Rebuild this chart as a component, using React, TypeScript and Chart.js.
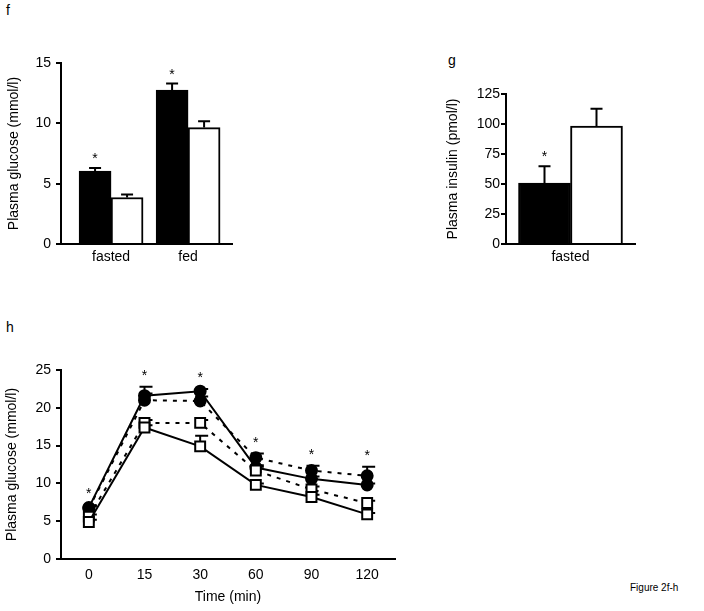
import React, { useEffect, useRef } from 'react';
import { Chart, registerables } from 'chart.js';

Chart.register(...registerables);

const FONT = "'Liberation Sans', Arial, Helvetica, sans-serif";
Chart.defaults.font.family = FONT;
Chart.defaults.font.size = 14;
Chart.defaults.color = '#000';

// ---------- Panel f ----------
const fCategories = ['fasted', 'fed'];
const fBlack = [6.05, 12.75];
const fBlackErr = [0.25, 0.55];
const fWhite = [3.85, 9.65];
const fWhiteErr = [0.25, 0.52];
const fSig = [true, true];

// ---------- Panel g ----------
const gCategories = ['fasted'];
const gBlack = [50.7];
const gBlackErr = [14];
const gWhite = [98.3];
const gWhiteErr = [14.5];
const gSig = [true];

// ---------- Panel h ----------
const hTimes = ['0', '15', '30', '60', '90', '120'];
const hWhiteSolid = [4.9, 17.4, 14.9, 9.8, 8.2, 5.9];
const hWhiteSolidErr = [0.3, 0.3, 1.4, 0.2, 0.3, 0.2];
const hWhiteDashed = [5.6, 18.0, 18.0, 11.7, 9.2, 7.4];
const hWhiteDashedErr = [0.3, 0.4, 0.4, 0.5, 0.4, 0.3];
const hBlackSolid = [6.8, 21.6, 22.2, 12.1, 10.6, 9.8];
const hBlackSolidErr = [0.3, 1.2, 0.3, 0.3, 0.3, 0.2];
const hBlackDashed = [6.7, 21.0, 20.9, 13.4, 11.7, 11.0];
const hBlackDashedErr = [0.3, 0.9, 0.6, 0.55, 0.65, 1.2];
const hSig = [true, true, true, true, true, true];

function valOf(d: any): number {
  return typeof d === 'number' ? d : d.y;
}

function makeErrPlugin(o: { behind: boolean; capL: number; capR: number; sig: boolean[]; sigSets: number[]; starGap: number }) {
  const drawErr = (chart: any) => {
    const ctx = chart.ctx;
    const ys = chart.scales.y;
    ctx.save();
    ctx.strokeStyle = '#000';
    ctx.lineWidth = 2;
    chart.data.datasets.forEach((ds: any, i: number) => {
      const errs = ds.errors;
      if (!errs) return;
      const meta = chart.getDatasetMeta(i);
      meta.data.forEach((el: any, j: number) => {
        const v = valOf(ds.data[j]);
        const px = el.x;
        const p0 = ys.getPixelForValue(v);
        const p1 = ys.getPixelForValue(v + errs[j]);
        ctx.beginPath();
        ctx.moveTo(px, p0);
        ctx.lineTo(px, p1);
        ctx.moveTo(px - o.capL, p1);
        ctx.lineTo(px + o.capR, p1);
        ctx.stroke();
      });
    });
    ctx.restore();
  };
  const drawStars = (chart: any) => {
    const ctx = chart.ctx;
    const ys = chart.scales.y;
    ctx.save();
    ctx.fillStyle = '#000';
    ctx.font = `14px ${FONT}`;
    ctx.textAlign = 'center';
    ctx.textBaseline = 'alphabetic';
    o.sig.forEach((s, j) => {
      if (!s) return;
      let top = Infinity;
      let x = 0;
      o.sigSets.forEach((i, k) => {
        const ds = chart.data.datasets[i];
        const el = chart.getDatasetMeta(i).data[j];
        if (!el) return;
        if (k === 0) x = el.x;
        const v = valOf(ds.data[j]) + (ds.errors ? ds.errors[j] : 0);
        top = Math.min(top, ys.getPixelForValue(v));
      });
      ctx.fillText('*', x, top - o.starGap + 8);
    });
    ctx.restore();
  };
  return {
    id: 'errStars',
    beforeDatasetsDraw(chart: any) {
      if (o.behind) drawErr(chart);
    },
    afterDatasetsDraw(chart: any) {
      if (!o.behind) drawErr(chart);
      drawStars(chart);
    },
  };
}

const axisBorder = { display: true, color: '#000', width: 2 };

function barConfig(p: {
  cats: string[]; black: number[]; blackErr: number[]; white: number[]; whiteErr: number[]; sig: boolean[];
  xmin: number; xmax: number; thickness: number; ymax: number; step: number; yTitle: string;
  padTop: number; padRight: number; yWidth: number; titlePad: number; tickPad: number; xHeight: number;
}) {
  return {
    type: 'bar',
    data: {
      datasets: [
        {
          label: 'black', data: p.black.map((v, i) => ({ x: i + 1, y: v })), errors: p.blackErr,
          backgroundColor: '#000', borderColor: '#000', borderWidth: 2, barThickness: p.thickness,
        },
        {
          label: 'white', data: p.white.map((v, i) => ({ x: i + 1, y: v })), errors: p.whiteErr,
          backgroundColor: '#fff', borderColor: '#000', borderWidth: 2, barThickness: p.thickness,
        },
      ],
    },
    options: {
      animation: false, responsive: false, devicePixelRatio: 1, events: [],
      layout: { padding: { top: p.padTop, right: p.padRight, left: 0, bottom: 0 } },
      plugins: { legend: { display: false }, tooltip: { enabled: false } },
      scales: {
        x: {
          type: 'linear', min: p.xmin, max: p.xmax, bounds: 'data', offset: false,
          grid: { display: true, drawOnChartArea: false, drawTicks: false, offset: false },
          border: axisBorder,
          afterBuildTicks: (s: any) => { s.ticks = p.cats.map((_, i) => ({ value: i + 1 })); },
          ticks: { callback: (v: any) => p.cats[Math.round(v) - 1] ?? '', color: '#000', font: { size: 14 }, padding: 5, maxRotation: 0, autoSkip: false },
          afterFit: (s: any) => { s.height = p.xHeight; },
        },
        y: {
          min: 0, max: p.ymax,
          ticks: { stepSize: p.step, color: '#000', font: { size: 14 }, padding: p.tickPad },
          grid: { drawOnChartArea: false, drawTicks: true, tickLength: 5, color: '#000', lineWidth: 2 },
          border: axisBorder,
          title: { display: true, text: p.yTitle, color: '#000', font: { size: 14 }, padding: { top: p.titlePad, bottom: 0 } },
          afterFit: (s: any) => { s.width = p.yWidth; },
        },
      },
    },
    plugins: [makeErrPlugin({ behind: false, capL: 6, capR: 6, sig: p.sig, sigSets: [0], starGap: 13 })],
  };
}

function hConfig() {
  const line = (data: number[], errs: number[], filled: boolean, dashed: boolean) => ({
    data, errors: errs,
    borderColor: '#000', borderWidth: 2, borderDash: dashed ? [4, 6] : [],
    pointStyle: filled ? 'circle' : 'rect',
    pointRadius: filled ? 5.5 : 7,
    pointBackgroundColor: filled ? '#000' : '#fff',
    pointBorderColor: '#000', pointBorderWidth: 2,
    tension: 0, fill: false,
  });
  return {
    type: 'line',
    data: {
      labels: hTimes,
      datasets: [
        line(hWhiteSolid, hWhiteSolidErr, false, false),
        line(hWhiteDashed, hWhiteDashedErr, false, true),
        line(hBlackSolid, hBlackSolidErr, true, false),
        line(hBlackDashed, hBlackDashedErr, true, true),
      ],
    },
    options: {
      animation: false, responsive: false, devicePixelRatio: 1, events: [],
      layout: { padding: { top: 70, right: 25, left: 0, bottom: 0 } },
      plugins: { legend: { display: false }, tooltip: { enabled: false } },
      scales: {
        x: {
          type: 'category', offset: true,
          grid: { display: true, drawOnChartArea: false, drawTicks: false, offset: true },
          border: axisBorder,
          ticks: { color: '#000', font: { size: 14 }, padding: 8, maxRotation: 0, autoSkip: false },
          title: { display: true, text: 'Time (min)', color: '#000', font: { size: 14 }, padding: { top: 0, bottom: 5 } },
          afterFit: (s: any) => { s.height = 52; },
        },
        y: {
          min: 0, max: 25,
          ticks: { stepSize: 5, color: '#000', font: { size: 14 }, padding: 5 },
          grid: { drawOnChartArea: false, drawTicks: true, tickLength: 5, color: '#000', lineWidth: 2 },
          border: axisBorder,
          title: { display: true, text: 'Plasma glucose (mmol/l)', color: '#000', font: { size: 14 }, padding: { top: 3.5, bottom: 0 } },
          afterFit: (s: any) => { s.width = 61; },
        },
      },
    },
    plugins: [makeErrPlugin({ behind: true, capL: 5, capR: 8, sig: hSig, sigSets: [0, 1, 2, 3], starGap: 15 })],
  };
}

function ChartCanvas({ left, top, width, height, make }: { left: number; top: number; width: number; height: number; make: () => any }) {
  const ref = useRef<HTMLCanvasElement | null>(null);
  useEffect(() => {
    if (!ref.current) return;
    const chart = new Chart(ref.current, make());
    return () => chart.destroy();
  }, []);
  return (
    <canvas
      ref={ref}
      width={width}
      height={height}
      style={{ position: 'absolute', left, top, width, height }}
    />
  );
}

const label = (text: string, left: number, top: number, size: number) => (
  <div style={{ position: 'absolute', left, top, fontFamily: FONT, fontSize: size, lineHeight: `${size + 2}px`, color: '#000', whiteSpace: 'nowrap' }}>
    {text}
  </div>
);

export default function App() {
  return (
    <div style={{ position: 'absolute', left: 0, top: 0, width: 704, height: 611, background: '#fff', overflow: 'hidden' }}>
      {label('f', 6, 2, 14)}
      {label('g', 448, 52, 14)}
      {label('h', 6, 319, 14)}
      {label('Figure 2f-h', 630, 582, 10)}
      <ChartCanvas
        left={0} top={40} width={250} height={230}
        make={() => barConfig({
          cats: fCategories, black: fBlack, blackErr: fBlackErr, white: fWhite, whiteErr: fWhiteErr, sig: fSig,
          xmin: 0.35, xmax: 2.57, thickness: 32, ymax: 15, step: 5, yTitle: 'Plasma glucose (mmol/l)',
          padTop: 23, padRight: 18, yWidth: 61, titlePad: 6, tickPad: 5, xHeight: 26,
        })}
      />
      <ChartCanvas
        left={420} top={40} width={250} height={230}
        make={() => barConfig({
          cats: gCategories, black: gBlack, blackErr: gBlackErr, white: gWhite, whiteErr: gWhiteErr, sig: gSig,
          xmin: 0, xmax: 2, thickness: 52, ymax: 125, step: 25, yTitle: 'Plasma insulin (pmol/l)',
          padTop: 54, padRight: 35, yWidth: 86, titlePad: 25, tickPad: 1, xHeight: 26,
        })}
      />
      <ChartCanvas left={0} top={300} width={420} height={311} make={hConfig} />
    </div>
  );
}
